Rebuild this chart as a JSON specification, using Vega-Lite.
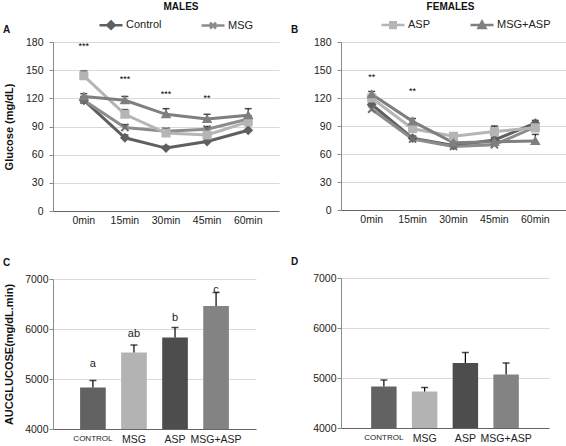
{
  "$schema": "https://vega.github.io/schema/vega-lite/v6.json",
  "background": "white",
  "padding": {"left": 2, "top": 2, "right": 0, "bottom": 0},
  "datasets": {
    "glucose": [
      {"sex": "M", "group": "Control", "time": "0min", "glucose": 118, "hi": 121},
      {"sex": "M", "group": "Control", "time": "15min", "glucose": 78, "hi": 81},
      {"sex": "M", "group": "Control", "time": "30min", "glucose": 67, "hi": 69},
      {"sex": "M", "group": "Control", "time": "45min", "glucose": 74, "hi": 77},
      {"sex": "M", "group": "Control", "time": "60min", "glucose": 86, "hi": 91},
      {"sex": "M", "group": "MSG", "time": "0min", "glucose": 118, "hi": 122},
      {"sex": "M", "group": "MSG", "time": "15min", "glucose": 89, "hi": 92},
      {"sex": "M", "group": "MSG", "time": "30min", "glucose": 85, "hi": 88},
      {"sex": "M", "group": "MSG", "time": "45min", "glucose": 87, "hi": 90},
      {"sex": "M", "group": "MSG", "time": "60min", "glucose": 98, "hi": 101},
      {"sex": "M", "group": "ASP", "time": "0min", "glucose": 144, "hi": 149},
      {"sex": "M", "group": "ASP", "time": "15min", "glucose": 103, "hi": 108},
      {"sex": "M", "group": "ASP", "time": "30min", "glucose": 83, "hi": 87},
      {"sex": "M", "group": "ASP", "time": "45min", "glucose": 81, "hi": 84},
      {"sex": "M", "group": "ASP", "time": "60min", "glucose": 95, "hi": 99},
      {"sex": "M", "group": "MSG+ASP", "time": "0min", "glucose": 122, "hi": 125},
      {"sex": "M", "group": "MSG+ASP", "time": "15min", "glucose": 118, "hi": 122},
      {"sex": "M", "group": "MSG+ASP", "time": "30min", "glucose": 103, "hi": 109},
      {"sex": "M", "group": "MSG+ASP", "time": "45min", "glucose": 98, "hi": 103},
      {"sex": "M", "group": "MSG+ASP", "time": "60min", "glucose": 102, "hi": 109},
      {"sex": "F", "group": "Control", "time": "0min", "glucose": 113, "hi": 116},
      {"sex": "F", "group": "Control", "time": "15min", "glucose": 77, "hi": 79},
      {"sex": "F", "group": "Control", "time": "30min", "glucose": 69, "hi": 72},
      {"sex": "F", "group": "Control", "time": "45min", "glucose": 75, "hi": 78},
      {"sex": "F", "group": "Control", "time": "60min", "glucose": 93, "hi": 96},
      {"sex": "F", "group": "MSG", "time": "0min", "glucose": 108, "hi": 111},
      {"sex": "F", "group": "MSG", "time": "15min", "glucose": 76, "hi": 78},
      {"sex": "F", "group": "MSG", "time": "30min", "glucose": 68, "hi": 70},
      {"sex": "F", "group": "MSG", "time": "45min", "glucose": 70, "hi": 72},
      {"sex": "F", "group": "MSG", "time": "60min", "glucose": 89, "hi": 92},
      {"sex": "F", "group": "ASP", "time": "0min", "glucose": 120, "hi": 123},
      {"sex": "F", "group": "ASP", "time": "15min", "glucose": 87, "hi": 91},
      {"sex": "F", "group": "ASP", "time": "30min", "glucose": 79, "hi": 82},
      {"sex": "F", "group": "ASP", "time": "45min", "glucose": 84, "hi": 90},
      {"sex": "F", "group": "ASP", "time": "60min", "glucose": 88, "hi": 91},
      {"sex": "F", "group": "MSG+ASP", "time": "0min", "glucose": 124, "hi": 127},
      {"sex": "F", "group": "MSG+ASP", "time": "15min", "glucose": 95, "hi": 98},
      {"sex": "F", "group": "MSG+ASP", "time": "30min", "glucose": 72, "hi": 75},
      {"sex": "F", "group": "MSG+ASP", "time": "45min", "glucose": 73, "hi": 76},
      {"sex": "F", "group": "MSG+ASP", "time": "60min", "glucose": 74, "hi": 81}
    ],
    "stars": [
      {"sex": "M", "time": "0min", "pos": 176, "mark": "***"},
      {"sex": "M", "time": "15min", "pos": 141, "mark": "***"},
      {"sex": "M", "time": "30min", "pos": 125, "mark": "***"},
      {"sex": "M", "time": "45min", "pos": 120, "mark": "**"},
      {"sex": "F", "time": "0min", "pos": 143, "mark": "**"},
      {"sex": "F", "time": "15min", "pos": 127, "mark": "**"}
    ],
    "auc": [
      {"sex": "M", "group": "CONTROL", "auc": 4830, "hi": 4970, "letter": "a", "lpos": 5300},
      {"sex": "M", "group": "MSG", "auc": 5530, "hi": 5680, "letter": "ab", "lpos": 5900},
      {"sex": "M", "group": "ASP", "auc": 5830, "hi": 6030, "letter": "b", "lpos": 6230},
      {"sex": "M", "group": "MSG+ASP", "auc": 6460, "hi": 6730, "letter": "c", "lpos": 6790},
      {"sex": "F", "group": "CONTROL", "auc": 4830, "hi": 4960, "letter": null, "lpos": null},
      {"sex": "F", "group": "MSG", "auc": 4730, "hi": 4810, "letter": null, "lpos": null},
      {"sex": "F", "group": "ASP", "auc": 5300, "hi": 5510, "letter": null, "lpos": null},
      {"sex": "F", "group": "MSG+ASP", "auc": 5070, "hi": 5300, "letter": null, "lpos": null}
    ]
  },
  "spacing": 12,
  "resolve": {"scale": {"color": "independent"}},
  "hconcat": [
    {
      "title": {"text": "MALES", "fontSize": 10, "fontWeight": "bold", "anchor": "middle", "dx": 40, "offset": 0},
      "spacing": 32,
      "resolve": {"scale": {"color": "independent"}},
      "vconcat": [
        {
          "width": 226,
          "height": 169,
          "title": {"text": "A", "anchor": "start", "frame": "bounds", "fontSize": 10, "fontWeight": "bold", "offset": -23},
          "data": {"name": "glucose"},
          "transform": [{"filter": "datum.sex == 'M'"}],
          "encoding": {
            "x": {"field": "time", "type": "nominal", "sort": ["0min", "15min", "30min", "45min", "60min"], "scale": {"padding": 0.5}, "axis": {"title": null, "labelAngle": 0}}
          },
          "layer": [
            {
              "mark": {"type": "rule", "color": "black", "strokeWidth": 1},
              "encoding": {
                "y": {"field": "glucose", "type": "quantitative", "scale": {"domain": [0, 180]}, "axis": {"title": "Glucose (mg/dL)", "values": [0, 30, 60, 90, 120, 150, 180]}},
                "y2": {"field": "hi"}
              }
            },
            {
              "mark": {"type": "tick", "color": "black", "size": 7, "thickness": 1.5},
              "encoding": {"y": {"field": "hi", "type": "quantitative", "axis": {"title": "Glucose (mg/dL)", "values": [0, 30, 60, 90, 120, 150, 180]}}}
            },
            {
              "mark": {"type": "line", "strokeWidth": 3},
              "encoding": {
                "y": {"field": "glucose", "type": "quantitative", "axis": {"title": "Glucose (mg/dL)", "values": [0, 30, 60, 90, 120, 150, 180]}},
                "color": {
                  "field": "group", "type": "nominal",
                  "scale": {"domain": ["Control", "MSG", "ASP", "MSG+ASP"], "range": ["#5f5f5f", "#8c8c8c", "#b5b5b5", "#7f7f7f"]},
                  "legend": {
                    "values": ["Control", "MSG"], "orient": "none", "legendX": 45, "legendY": -30,
                    "direction": "horizontal", "title": null, "symbolSize": 529, "columnPadding": 34,
                    "labelFontSize": 11, "labelOffset": 2,
                    "encode": {"symbols": {"update": {
                      "shape": {"signal": "datum.value === 'Control' ? 'M-1,0H1M0,-0.32L0.32,0L0,0.32L-0.32,0Z' : datum.value === 'MSG' ? 'M-1,0H1M-0.26,-0.26L0.26,0.26M-0.26,0.26L0.26,-0.26' : datum.value === 'ASP' ? 'M-1,0H1M-0.24,-0.24H0.24V0.24H-0.24Z' : 'M-1,0H1M0,-0.3L0.3,0.24H-0.3Z'"},
                      "stroke": {"signal": "datum.value === 'Control' ? '#5f5f5f' : datum.value === 'MSG' ? '#8c8c8c' : datum.value === 'ASP' ? '#b5b5b5' : '#7f7f7f'"},
                      "fill": {"signal": "datum.value === 'Control' ? '#5f5f5f' : datum.value === 'MSG' ? '#8c8c8c' : datum.value === 'ASP' ? '#b5b5b5' : '#7f7f7f'"},
                      "strokeWidth": {"value": 2.5},
                      "opacity": {"value": 1}
                    }}}
                  }
                }
              }
            },
            {
              "mark": {"type": "point", "filled": true, "size": 50, "opacity": 1, "strokeWidth": 2},
              "encoding": {
                "y": {"field": "glucose", "type": "quantitative", "axis": {"title": "Glucose (mg/dL)", "values": [0, 30, 60, 90, 120, 150, 180]}},
                "fill": {"field": "group", "type": "nominal", "scale": {"domain": ["Control", "MSG", "ASP", "MSG+ASP"], "range": ["#5f5f5f", "#6f6f6f", "#b5b5b5", "#7f7f7f"]}, "legend": null},
                "stroke": {"field": "group", "type": "nominal", "scale": {"domain": ["Control", "MSG", "ASP", "MSG+ASP"], "range": ["#5f5f5f", "#6f6f6f", "#b5b5b5", "#7f7f7f"]}, "legend": null},
                "shape": {"field": "group", "type": "nominal", "scale": {"domain": ["Control", "MSG", "ASP", "MSG+ASP"], "range": ["diamond", "M-1,-1L1,1M-1,1L1,-1", "square", "triangle-up"]}, "legend": null}
              }
            },
            {
              "data": {"name": "stars"},
              "transform": [{"filter": "datum.sex == 'M'"}],
              "mark": {"type": "text", "fontSize": 9, "color": "black", "baseline": "middle"},
              "encoding": {
                "y": {"field": "pos", "type": "quantitative", "axis": {"title": "Glucose (mg/dL)", "values": [0, 30, 60, 90, 120, 150, 180]}},
                "text": {"field": "mark"}
              }
            }
          ]
        },
        {
          "width": 203,
          "height": 150,
          "title": {"text": "C", "anchor": "start", "frame": "bounds", "fontSize": 10, "fontWeight": "bold", "offset": 6},
          "data": {"name": "auc"},
          "transform": [{"filter": "datum.sex == 'M'"}],
          "encoding": {
            "x": {"field": "group", "type": "nominal", "sort": ["CONTROL", "MSG", "ASP", "MSG+ASP"], "scale": {"paddingInner": 0.375, "paddingOuter": 0.66},
              "axis": {"title": null, "labelAngle": 0, "labelPadding": 5, "labelFontSize": {"condition": {"test": "datum.value == 'CONTROL'", "value": 8}, "value": 10.5}}}
          },
          "layer": [
            {
              "mark": {"type": "bar"},
              "encoding": {
                "y": {"field": "auc", "type": "quantitative", "scale": {"domain": [4000, 7000], "zero": false}, "axis": {"title": "AUCGLUCOSE(mg/dL.min)", "values": [4000, 5000, 6000, 7000], "format": "d", "labelPadding": 1}},
                "y2": {"datum": 4000},
                "color": {"field": "group", "type": "nominal", "scale": {"domain": ["CONTROL", "MSG", "ASP", "MSG+ASP"], "range": ["#626262", "#b3b3b3", "#4d4d4d", "#838383"]}, "legend": null}
              }
            },
            {
              "mark": {"type": "rule", "color": "black", "strokeWidth": 1.2},
              "encoding": {"y": {"field": "auc", "type": "quantitative", "axis": {"title": "AUCGLUCOSE(mg/dL.min)", "values": [4000, 5000, 6000, 7000], "format": "d", "labelPadding": 1}}, "y2": {"field": "hi"}}
            },
            {
              "mark": {"type": "tick", "color": "black", "size": 7, "thickness": 1.5},
              "encoding": {"y": {"field": "hi", "type": "quantitative", "axis": {"title": "AUCGLUCOSE(mg/dL.min)", "values": [4000, 5000, 6000, 7000], "format": "d", "labelPadding": 1}}}
            },
            {
              "mark": {"type": "text", "fontSize": 11, "color": "#222", "baseline": "middle"},
              "encoding": {"y": {"field": "lpos", "type": "quantitative", "axis": {"title": "AUCGLUCOSE(mg/dL.min)", "values": [4000, 5000, 6000, 7000], "format": "d", "labelPadding": 1}}, "text": {"field": "letter"}}
            }
          ]
        }
      ]
    },
    {
      "title": {"text": "FEMALES", "fontSize": 10, "fontWeight": "bold", "anchor": "middle", "dx": 22, "offset": 0},
      "spacing": 32,
      "resolve": {"scale": {"color": "independent"}},
      "vconcat": [
        {
          "width": 225,
          "height": 168,
          "title": {"text": "B", "anchor": "start", "frame": "bounds", "fontSize": 10, "fontWeight": "bold", "offset": -23},
          "data": {"name": "glucose"},
          "transform": [{"filter": "datum.sex == 'F'"}],
          "encoding": {
            "x": {"field": "time", "type": "nominal", "sort": ["0min", "15min", "30min", "45min", "60min"], "scale": {"padding": 0.5}, "axis": {"title": null, "labelAngle": 0}}
          },
          "layer": [
            {
              "mark": {"type": "rule", "color": "black", "strokeWidth": 1},
              "encoding": {
                "y": {"field": "glucose", "type": "quantitative", "scale": {"domain": [0, 180]}, "axis": {"title": " ", "values": [0, 30, 60, 90, 120, 150, 180]}},
                "y2": {"field": "hi"}
              }
            },
            {
              "mark": {"type": "tick", "color": "black", "size": 7, "thickness": 1.5},
              "encoding": {"y": {"field": "hi", "type": "quantitative", "axis": {"title": " ", "values": [0, 30, 60, 90, 120, 150, 180]}}}
            },
            {
              "mark": {"type": "line", "strokeWidth": 3},
              "encoding": {
                "y": {"field": "glucose", "type": "quantitative", "axis": {"title": " ", "values": [0, 30, 60, 90, 120, 150, 180]}},
                "color": {
                  "field": "group", "type": "nominal",
                  "scale": {"domain": ["Control", "MSG", "ASP", "MSG+ASP"], "range": ["#5f5f5f", "#8c8c8c", "#b5b5b5", "#7f7f7f"]},
                  "legend": {
                    "values": ["ASP", "MSG+ASP"], "orient": "none", "legendX": 39, "legendY": -30,
                    "direction": "horizontal", "title": null, "symbolSize": 529, "columnPadding": 34,
                    "labelFontSize": 11, "labelOffset": 2,
                    "encode": {"symbols": {"update": {
                      "shape": {"signal": "datum.value === 'Control' ? 'M-1,0H1M0,-0.32L0.32,0L0,0.32L-0.32,0Z' : datum.value === 'MSG' ? 'M-1,0H1M-0.26,-0.26L0.26,0.26M-0.26,0.26L0.26,-0.26' : datum.value === 'ASP' ? 'M-1,0H1M-0.24,-0.24H0.24V0.24H-0.24Z' : 'M-1,0H1M0,-0.3L0.3,0.24H-0.3Z'"},
                      "stroke": {"signal": "datum.value === 'Control' ? '#5f5f5f' : datum.value === 'MSG' ? '#8c8c8c' : datum.value === 'ASP' ? '#b5b5b5' : '#7f7f7f'"},
                      "fill": {"signal": "datum.value === 'Control' ? '#5f5f5f' : datum.value === 'MSG' ? '#8c8c8c' : datum.value === 'ASP' ? '#b5b5b5' : '#7f7f7f'"},
                      "strokeWidth": {"value": 2.5},
                      "opacity": {"value": 1}
                    }}}
                  }
                }
              }
            },
            {
              "mark": {"type": "point", "filled": true, "size": 50, "opacity": 1, "strokeWidth": 2},
              "encoding": {
                "y": {"field": "glucose", "type": "quantitative", "axis": {"title": " ", "values": [0, 30, 60, 90, 120, 150, 180]}},
                "fill": {"field": "group", "type": "nominal", "scale": {"domain": ["Control", "MSG", "ASP", "MSG+ASP"], "range": ["#5f5f5f", "#6f6f6f", "#b5b5b5", "#7f7f7f"]}, "legend": null},
                "stroke": {"field": "group", "type": "nominal", "scale": {"domain": ["Control", "MSG", "ASP", "MSG+ASP"], "range": ["#5f5f5f", "#6f6f6f", "#b5b5b5", "#7f7f7f"]}, "legend": null},
                "shape": {"field": "group", "type": "nominal", "scale": {"domain": ["Control", "MSG", "ASP", "MSG+ASP"], "range": ["diamond", "M-1,-1L1,1M-1,1L1,-1", "square", "triangle-up"]}, "legend": null}
              }
            },
            {
              "data": {"name": "stars"},
              "transform": [{"filter": "datum.sex == 'F'"}],
              "mark": {"type": "text", "fontSize": 9, "color": "black", "baseline": "middle"},
              "encoding": {
                "y": {"field": "pos", "type": "quantitative", "axis": {"title": " ", "values": [0, 30, 60, 90, 120, 150, 180]}},
                "text": {"field": "mark"}
              }
            }
          ]
        },
        {
          "width": 208,
          "height": 150,
          "title": {"text": "D", "anchor": "start", "frame": "bounds", "fontSize": 10, "fontWeight": "bold", "offset": 6},
          "data": {"name": "auc"},
          "transform": [{"filter": "datum.sex == 'F'"}],
          "encoding": {
            "x": {"field": "group", "type": "nominal", "sort": ["CONTROL", "MSG", "ASP", "MSG+ASP"], "scale": {"paddingInner": 0.375, "paddingOuter": 0.74},
              "axis": {"title": null, "labelAngle": 0, "labelPadding": 5, "labelFontSize": {"condition": {"test": "datum.value == 'CONTROL'", "value": 8}, "value": 10.5}}}
          },
          "layer": [
            {
              "mark": {"type": "bar"},
              "encoding": {
                "y": {"field": "auc", "type": "quantitative", "scale": {"domain": [4000, 7000], "zero": false}, "axis": {"title": " ", "values": [4000, 5000, 6000, 7000], "format": "d", "labelPadding": 1}},
                "y2": {"datum": 4000},
                "color": {"field": "group", "type": "nominal", "scale": {"domain": ["CONTROL", "MSG", "ASP", "MSG+ASP"], "range": ["#626262", "#b3b3b3", "#4d4d4d", "#838383"]}, "legend": null}
              }
            },
            {
              "mark": {"type": "rule", "color": "black", "strokeWidth": 1.2},
              "encoding": {"y": {"field": "auc", "type": "quantitative", "axis": {"title": " ", "values": [4000, 5000, 6000, 7000], "format": "d", "labelPadding": 1}}, "y2": {"field": "hi"}}
            },
            {
              "mark": {"type": "tick", "color": "black", "size": 7, "thickness": 1.5},
              "encoding": {"y": {"field": "hi", "type": "quantitative", "axis": {"title": " ", "values": [4000, 5000, 6000, 7000], "format": "d", "labelPadding": 1}}}
            }
          ]
        }
      ]
    }
  ],
  "config": {
    "font": "Liberation Sans",
    "view": {"stroke": null},
    "axis": {
      "labelFont": "Liberation Sans", "labelFontSize": 10.5, "labelColor": "#222",
      "titleFont": "Liberation Sans", "titleFontSize": 11, "titleFontWeight": "bold", "titleColor": "#111",
      "domainColor": "#8a8a8a", "tickColor": "#8a8a8a", "gridColor": "#d9d9d9"
    },
    "axisX": {"grid": false, "ticks": false, "labelPadding": 4, "domainColor": "#666"},
    "axisY": {"grid": true, "tickSize": 4, "labelPadding": 6, "minExtent": 34, "titlePadding": 5},
    "legend": {"labelFont": "Liberation Sans", "labelColor": "#222"},
    "title": {"font": "Liberation Sans", "color": "#111"}
  }
}
